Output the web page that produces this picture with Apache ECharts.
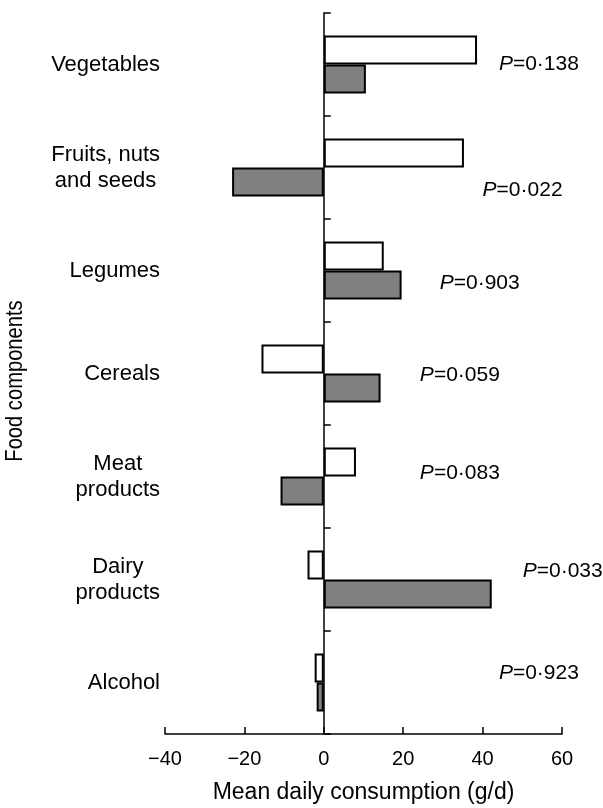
<!DOCTYPE html>
<html>
<head>
<meta charset="utf-8">
<script src="https://cdn.jsdelivr.net/npm/echarts@6/dist/echarts.min.js"></script>
<style>
html, body { margin: 0; padding: 0; background: #fff; }
#chart { width: 603px; height: 808px; }
</style>
</head>
<body>
<div id="chart"></div>
<script>
const categories = ['Vegetables', 'Fruits, nuts\nand seeds', 'Legumes', 'Cereals', 'Meat\nproducts', 'Dairy\nproducts', 'Alcohol'];
const whiteValues = [38.6, 35.3, 15.1, -15.7, 8.1, -4.1, -2.3];
const greyValues = [10.6, -23.1, 19.6, 14.3, -10.9, 42.3, -1.8];
const pValues = ['0·138', '0·022', '0·903', '0·059', '0·083', '0·033', '0·923'];
const xTicks = [-40, -20, 0, 20, 40, 60];

// annotation anchors (in data units of the value axes)
const pAnchorX = [44.1, 40.0, 29.2, 24.2, 24.2, 50.1, 44.1];
const pAnchorY = [6.50, 5.28, 4.38, 3.48, 2.53, 1.58, 0.59];

const FONT = "'Liberation Sans', Arial, Helvetica, sans-serif";

const chart = echarts.init(document.getElementById('chart'), null, { renderer: 'canvas' });

const option = {
  animation: false,
  backgroundColor: '#ffffff',
  grid: { left: 165, right: 41, top: 13, bottom: 74, containLabel: false, outerBoundsMode: 'none' },
  graphic: [
    {
      type: 'text',
      x: 15,
      y: 381,
      rotation: Math.PI / 2,
      scaleX: 0.84,
      style: {
        text: 'Food components',
        font: "24px 'Liberation Sans', Arial, sans-serif",
        fill: '#000',
        align: 'center',
        verticalAlign: 'middle'
      }
    }
  ],
  xAxis: {
    type: 'value',
    min: xTicks[0],
    max: xTicks[xTicks.length - 1],
    interval: 20,
    axisLine: { show: true, onZero: false, lineStyle: { color: '#000', width: 1.5 } },
    axisTick: { show: true, inside: true, length: 7, lineStyle: { color: '#000', width: 1.5 } },
    axisLabel: {
      color: '#000', fontSize: 20, fontFamily: FONT, margin: 15,
      formatter: v => (v < 0 ? '\u2212' + Math.abs(v) : String(v))
    },
    splitLine: { show: false },
    name: 'Mean daily consumption (g/d)',
    nameLocation: 'middle',
    nameGap: 47,
    nameTextStyle: { color: '#000', fontSize: 23, fontFamily: FONT }
  },
  yAxis: [
    {
      type: 'category',
      data: categories,
      inverse: true,
      position: 'left',
      axisLine: { show: false, onZero: false },
      axisTick: { show: false },
      axisLabel: {
        color: '#000', fontSize: 22, fontFamily: FONT, margin: 5, align: 'right',
        lineHeight: 26,
        formatter: v => v.split('\n').map(l => '{c|' + l + '}').join('\n'),
        rich: { c: { align: 'center', fontSize: 22, fontFamily: FONT, color: '#000', lineHeight: 26 } }
      }
    },
    {
      type: 'category',
      data: categories,
      inverse: true,
      position: 'left',
      axisLine: { show: true, onZero: true, onZeroAxisIndex: 0, lineStyle: { color: '#000', width: 1.5 } },
      axisTick: { show: true, inside: true, length: 7, lineStyle: { color: '#000', width: 1.5 } },
      axisLabel: { show: false }
    },
    {
      type: 'value',
      min: 0,
      max: 7,
      show: false
    }
  ],
  series: [
    {
      type: 'bar',
      yAxisIndex: 0,
      data: whiteValues,
      barWidth: 29,
      barGap: '0%',
      itemStyle: { color: '#ffffff', borderColor: '#000', borderWidth: 2 },
      z: 2
    },
    {
      type: 'bar',
      yAxisIndex: 0,
      data: greyValues,
      barWidth: 29,
      barGap: '0%',
      itemStyle: { color: '#808080', borderColor: '#000', borderWidth: 2 },
      z: 2
    },
    {
      type: 'scatter',
      yAxisIndex: 2,
      symbolSize: 0,
      itemStyle: { opacity: 1, color: '#000' },
      data: pValues.map((p, i) => [pAnchorX[i], pAnchorY[i]]),
      label: {
        show: true,
        position: 'right',
        distance: 0,
        color: '#000',
        opacity: 1,
        formatter: params => '{i|P}{n|=' + pValues[params.dataIndex] + '}',
        rich: {
          i: { fontStyle: 'italic', fontSize: 21, fontFamily: FONT, color: '#000' },
          n: { fontSize: 21, fontFamily: FONT, color: '#000' }
        }
      },
      z: 5
    }
  ]
};

chart.setOption(option);
</script>
</body>
</html>
